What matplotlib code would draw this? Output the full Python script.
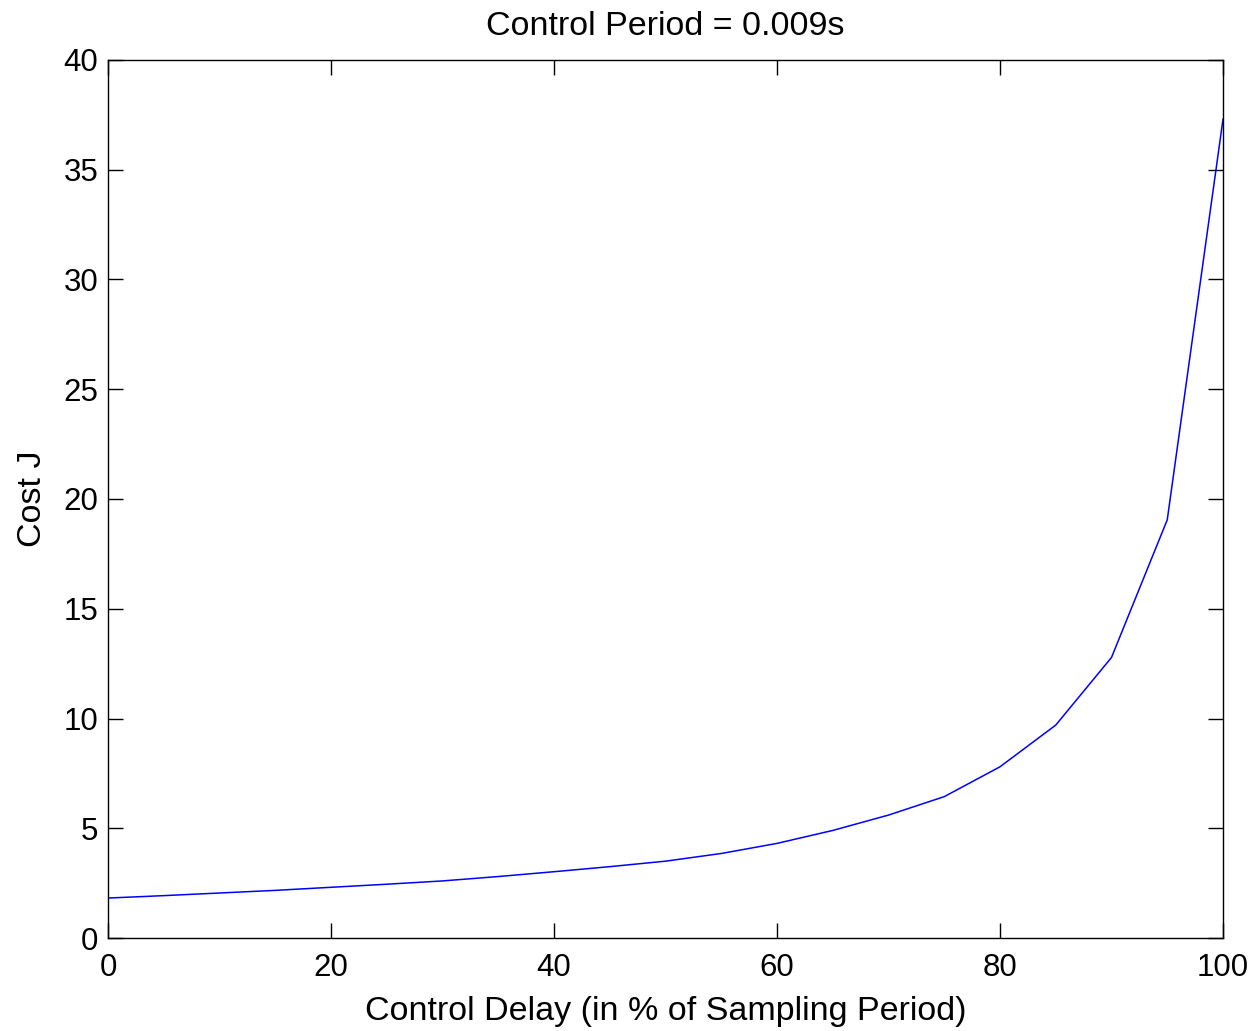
import matplotlib
matplotlib.use("Agg")
import matplotlib.pyplot as plt

delay_pct = [0, 5, 10, 15, 20, 25, 30, 35, 40, 45, 50, 55, 60, 65, 70, 75, 80, 85, 90, 95, 100]
cost_j = [1.82, 1.93, 2.05, 2.17, 2.31, 2.45, 2.60, 2.80, 3.02, 3.25, 3.50, 3.85, 4.31, 4.90, 5.60, 6.44, 7.80, 9.70, 12.78, 19.05, 37.3]

xticks = [0, 20, 40, 60, 80, 100]
yticks = [0, 5, 10, 15, 20, 25, 30, 35, 40]

plt.rcParams['font.family'] = ['Liberation Sans', 'DejaVu Sans']

fig = plt.figure(figsize=(12.53, 10.31), dpi=100)
ax = fig.add_axes([108/1253, 93/1031, (1223-108)/1253, (938-60)/1031])
ax.plot(delay_pct, cost_j, color='#0000ff', linewidth=1.1)
ax.set_xlim(0, 100)
ax.set_ylim(0, 40)
ax.set_xticks(xticks)
ax.set_yticks(yticks)
ax.tick_params(direction='in', length=11, width=1, labelsize=22.5, top=True, right=True, pad=7)
ax.tick_params(axis='x', pad=11)
for s in ax.spines.values():
    s.set_linewidth(1)
ax.set_xlabel('Control Delay (in % of Sampling Period)', fontsize=24.5, labelpad=9)
ax.set_ylabel('Cost J', fontsize=24.5, labelpad=11)
ax.set_title('Control Period = 0.009s', fontsize=24.5, pad=18)
fig.savefig('out.png', dpi=100)
